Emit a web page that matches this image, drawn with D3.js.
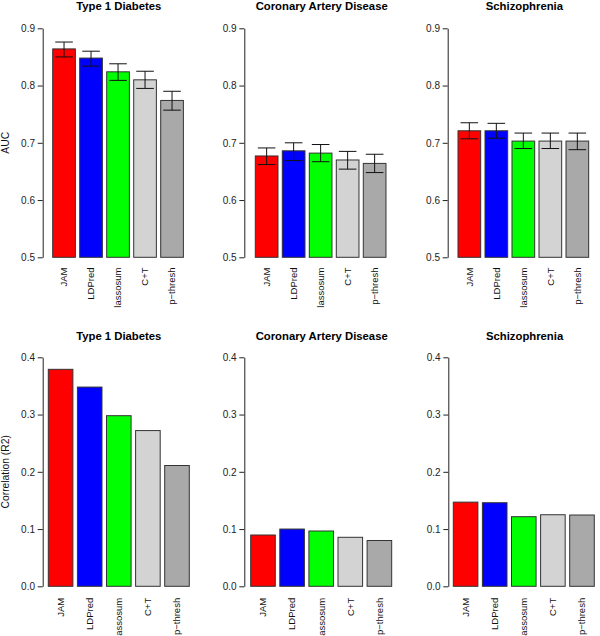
<!DOCTYPE html>
<html>
<head>
<meta charset="utf-8">
<script src="https://cdn.jsdelivr.net/npm/d3@7"></script>
<style>
  html, body { margin: 0; padding: 0; background: #fff; }
  svg { display: block; font-family: "Liberation Sans", Arial, Helvetica, sans-serif; }
</style>
</head>
<body>
<svg id="chart" width="600" height="636"></svg>
<script>
// ---- data ----
const methods = ["JAM", "LDPred", "lassosum", "C+T", "p\u2212thresh"];
const methodColors = ["#FF0000", "#0000FF", "#00FF00", "#D3D3D3", "#A9A9A9"];
const diseases = ["Type 1 Diabetes", "Coronary Artery Disease", "Schizophrenia"];

const aucT1D      = [0.864, 0.848, 0.824, 0.810, 0.774];
const aucT1DLow   = [0.850, 0.834, 0.809, 0.795, 0.757];
const aucT1DHigh  = [0.876, 0.860, 0.838, 0.825, 0.790];
const aucCAD      = [0.677, 0.686, 0.682, 0.670, 0.664];
const aucCADLow   = [0.662, 0.669, 0.667, 0.654, 0.648];
const aucCADHigh  = [0.691, 0.700, 0.697, 0.685, 0.680];
const aucSCZ      = [0.721, 0.721, 0.703, 0.703, 0.703];
const aucSCZLow   = [0.707, 0.708, 0.690, 0.690, 0.688];
const aucSCZHigh  = [0.735, 0.734, 0.717, 0.717, 0.717];

const r2T1D = [0.379, 0.348, 0.298, 0.272, 0.211];
const r2CAD = [0.0896, 0.100, 0.0966, 0.0856, 0.080];
const r2SCZ = [0.147, 0.146, 0.1216, 0.125, 0.1245];

const aucTicks = [0.5, 0.6, 0.7, 0.8, 0.9];
const r2Ticks  = [0.0, 0.1, 0.2, 0.3, 0.4];

// ---- layout ----
const svg = d3.select("#chart");

const rows = [
  {
    label: "AUC", ticks: aucTicks, domain: [0.5, 0.9], yRange: [257.3, 28.3],
    titleY: 10, xLabelEnd: 267.5, step: 27, widthFrac: 0.84,
    panels: [
      { axisX: 42.7, firstBar: 52.7, titleX: 118.8, values: aucT1D, low: aucT1DLow, high: aucT1DHigh },
      { axisX: 244.3, firstBar: 255.3, titleX: 321.7, values: aucCAD, low: aucCADLow, high: aucCADHigh },
      { axisX: 447.7, firstBar: 458.0, titleX: 524.4, values: aucSCZ, low: aucSCZLow, high: aucSCZHigh }
    ]
  },
  {
    label: "Correlation (R2)", ticks: r2Ticks, domain: [0, 0.4], yRange: [586.3, 357.3],
    titleY: 339.5, xLabelEnd: 597.8, step: 29.1, widthFrac: 0.845,
    panels: [
      { axisX: 42.7, firstBar: 48.3, titleX: 118.8, values: r2T1D },
      { axisX: 244.3, firstBar: 250.7, titleX: 321.7, values: r2CAD },
      { axisX: 448.3, firstBar: 453.3, titleX: 524.6, values: r2SCZ }
    ]
  }
];

rows.forEach(row => {
  const y = d3.scaleLinear().domain(row.domain).range(row.yRange);
  const pi = 1 - row.widthFrac, po = pi / 2;

  // y-axis title
  const yMid = (row.yRange[0] + row.yRange[1]) / 2;
  svg.append("text")
    .attr("transform", `translate(9,${yMid}) rotate(-90)`)
    .attr("text-anchor", "middle")
    .attr("font-size", 10.3)
    .attr("fill", "#111")
    .text(row.label);

  row.panels.forEach((p, pi_) => {
    const g = svg.append("g");
    const left = p.firstBar - po * row.step;
    const x = d3.scaleBand().domain(methods)
      .range([left, left + methods.length * row.step])
      .paddingInner(pi).paddingOuter(po);

    // title
    g.append("text")
      .attr("x", p.titleX).attr("y", row.titleY)
      .attr("text-anchor", "middle")
      .attr("font-size", 11.3).attr("font-weight", "bold")
      .attr("fill", "#000")
      .text(diseases[pi_]);

    // bars
    const data = methods.map((m, i) => ({
      m, v: p.values[i], c: methodColors[i],
      lo: p.low ? p.low[i] : null, hi: p.high ? p.high[i] : null
    }));
    g.selectAll("rect.bar").data(data).enter().append("rect")
      .attr("class", "bar")
      .attr("x", d => x(d.m))
      .attr("width", x.bandwidth())
      .attr("y", d => y(d.v))
      .attr("height", d => y(row.domain[0]) - y(d.v))
      .attr("fill", d => d.c)
      .attr("stroke", "#333")
      .attr("stroke-width", 1);

    // error bars
    if (p.low) {
      const cap = 8.8;
      const eb = g.selectAll("g.err").data(data).enter().append("g").attr("class", "err")
        .attr("stroke", "#111").attr("stroke-width", 1);
      eb.append("line")
        .attr("x1", d => x(d.m) + x.bandwidth() / 2).attr("x2", d => x(d.m) + x.bandwidth() / 2)
        .attr("y1", d => y(d.lo)).attr("y2", d => y(d.hi));
      eb.append("line")
        .attr("x1", d => x(d.m) + x.bandwidth() / 2 - cap).attr("x2", d => x(d.m) + x.bandwidth() / 2 + cap)
        .attr("y1", d => y(d.hi)).attr("y2", d => y(d.hi));
      eb.append("line")
        .attr("x1", d => x(d.m) + x.bandwidth() / 2 - cap).attr("x2", d => x(d.m) + x.bandwidth() / 2 + cap)
        .attr("y1", d => y(d.lo)).attr("y2", d => y(d.lo));
    }

    // y axis
    const ax = g.append("g")
      .attr("transform", `translate(${p.axisX},0)`)
      .call(d3.axisLeft(y).tickValues(row.ticks).tickFormat(d3.format(".1f"))
        .tickSize(5).tickSizeOuter(0).tickPadding(2.7));
    ax.select(".domain").attr("stroke", "#222");
    ax.selectAll(".tick line").attr("stroke", "#222");
    ax.selectAll(".tick text").attr("font-size", 10).attr("fill", "#222")
      .attr("font-family", "Liberation Sans, Arial, sans-serif");

    // x labels (rotated)
    g.selectAll("text.xl").data(data).enter().append("text")
      .attr("class", "xl")
      .attr("transform", d => `translate(${x(d.m) + x.bandwidth() / 2},${row.xLabelEnd}) rotate(-90)`)
      .attr("text-anchor", "end")
      .attr("dy", "0.35em")
      .attr("font-size", 9.5)
      .attr("fill", "#111")
      .text(d => d.m);
  });
});
</script>
</body>
</html>
